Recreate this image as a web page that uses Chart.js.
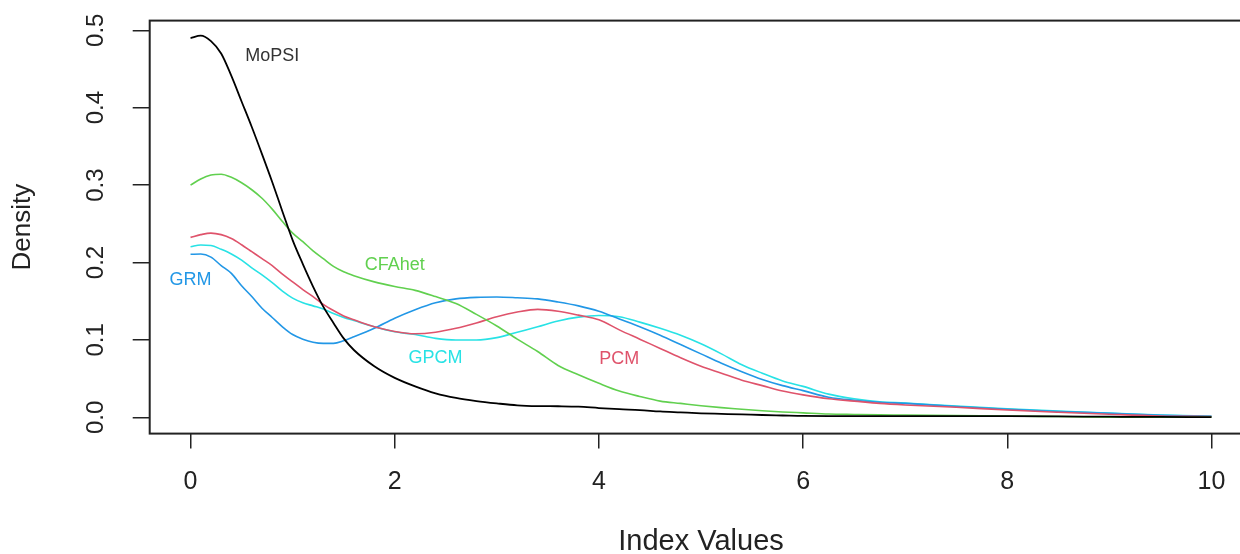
<!DOCTYPE html>
<html>
<head>
<meta charset="utf-8">
<script src="https://cdn.jsdelivr.net/npm/chart.js@4.4.1/dist/chart.umd.min.js"></script>
<style>
  html, body { margin: 0; padding: 0; background: #ffffff; overflow: hidden; }
  #wrap { width: 1260px; height: 554px; }
</style>
</head>
<body>
<div id="wrap"><canvas id="c" width="1260" height="554"></canvas></div>
<script>
// ---- data ----
const indexValues = [0,0.1,0.2,0.3,0.4,0.5,0.6,0.7,0.8,0.9,1.0,1.1,1.2,1.3,1.4,1.5,1.6,1.8,2.0,2.2,2.4,2.6,2.8,3.0,3.2,3.4,3.6,3.8,4.0,4.2,4.4,4.6,4.8,5.0,5.2,5.4,5.6,5.8,6.0,6.25,6.5,6.75,7.0,7.5,8.0,8.5,9.0,9.5,10];

const mopsi = [0.490,0.493,0.486,0.470,0.441,0.408,0.375,0.340,0.304,0.266,0.229,0.198,0.169,0.143,0.122,0.102,0.087,0.066,0.051,0.040,0.031,0.025,0.021,0.018,0.0155,0.0145,0.0143,0.0138,0.012,0.0105,0.0094,0.0076,0.0064,0.0052,0.0045,0.0038,0.0030,0.0024,0.0018,0.0017,0.0017,0.0016,0.0016,0.0016,0.0015,0.0012,0.0008,0.0005,0.0003];

const cfahet = [0.300,0.308,0.313,0.314,0.310,0.303,0.294,0.283,0.269,0.253,0.238,0.227,0.215,0.205,0.195,0.188,0.183,0.175,0.169,0.164,0.156,0.147,0.133,0.118,0.101,0.085,0.067,0.055,0.044,0.034,0.027,0.021,0.018,0.015,0.0125,0.0105,0.0085,0.007,0.0058,0.0043,0.0037,0.0032,0.0030,0.0022,0.0018,0.0010,0.0003,0.0002,0.0001];

const pcm = [0.2325,0.236,0.238,0.236,0.231,0.223,0.214,0.205,0.196,0.185,0.175,0.165,0.156,0.146,0.138,0.131,0.126,0.117,0.111,0.108,0.110,0.115,0.122,0.130,0.136,0.1395,0.137,0.132,0.126,0.113,0.101,0.089,0.077,0.066,0.057,0.048,0.041,0.034,0.029,0.024,0.021,0.018,0.016,0.013,0.0095,0.0066,0.004,0.0018,0.001];

const grm = [0.2106,0.211,0.207,0.196,0.186,0.170,0.156,0.141,0.129,0.117,0.107,0.101,0.097,0.0955,0.0956,0.099,0.104,0.115,0.128,0.139,0.148,0.153,0.155,0.1555,0.1545,0.153,0.149,0.144,0.137,0.127,0.117,0.106,0.094,0.082,0.070,0.059,0.049,0.041,0.0345,0.026,0.022,0.0195,0.018,0.014,0.0105,0.0075,0.0052,0.0028,0.0013];

const gpcm = [0.2204,0.2226,0.222,0.217,0.211,0.203,0.193,0.184,0.174,0.163,0.154,0.148,0.144,0.140,0.134,0.129,0.125,0.117,0.1105,0.107,0.102,0.0999,0.0999,0.103,0.110,0.117,0.1245,0.1295,0.1315,0.130,0.123,0.115,0.106,0.095,0.082,0.068,0.057,0.047,0.040,0.030,0.024,0.020,0.0185,0.0145,0.011,0.008,0.0055,0.003,0.0015];

const xTickValues = [0,2,4,6,8,10];
const xTickLabels = ['0','2','4','6','8','10'];
const yTickValues = [0,0.1,0.2,0.3,0.4,0.5];
const yTickLabels = ['0.0','0.1','0.2','0.3','0.4','0.5'];

const seriesNames = ['MoPSI','CFAhet','PCM','GRM','GPCM'];
const seriesColors = ['#000000','#61D04F','#DF536B','#2297E6','#28E2E5'];
const seriesValues = [mopsi, cfahet, pcm, grm, gpcm];

// curve annotations (data coordinates)
const labelTexts = ['MoPSI','CFAhet','GRM','GPCM','PCM'];
const labelX = [0.8, 2.0, 0.0, 2.4, 4.2];
const labelY = [0.467, 0.197, 0.177, 0.076, 0.075];
const labelColors = ['#333333','#61D04F','#2297E6','#28E2E5','#DF536B'];

// ---- chart ----
const FONT = "'Liberation Sans', Arial, sans-serif";
Chart.defaults.font.family = FONT;
Chart.defaults.color = '#222';

const datasets = seriesValues.map((vals, k) => ({
  label: seriesNames[k],
  data: indexValues.map((x, i) => ({ x: x, y: vals[i] })),
  borderColor: seriesColors[k],
  borderWidth: k === 0 ? 1.8 : 1.6,
  pointRadius: 0,
  fill: false,
  cubicInterpolationMode: 'monotone'
}));

const frameAndLabels = {
  id: 'frameAndLabels',
  afterDraw(chart) {
    const ctx = chart.ctx;
    const a = chart.chartArea;
    const xs = chart.scales.x, ys = chart.scales.y;
    ctx.save();
    // plot frame
    ctx.strokeStyle = '#222';
    ctx.lineWidth = 2;
    ctx.strokeRect(a.left, a.top, a.right - a.left, a.bottom - a.top);
    // rotated y tick labels (R style)
    ctx.fillStyle = '#222';
    ctx.font = '24px ' + FONT;
    ctx.textAlign = 'center';
    ctx.textBaseline = 'middle';
    yTickValues.forEach((v, i) => {
      const py = ys.getPixelForValue(v);
      ctx.save();
      ctx.translate(96, py);
      ctx.rotate(-Math.PI / 2);
      ctx.fillText(yTickLabels[i], 0, 0);
      ctx.restore();
    });
    // curve annotations
    ctx.font = '18px ' + FONT;
    labelTexts.forEach((t, i) => {
      ctx.fillStyle = labelColors[i];
      ctx.fillText(t, xs.getPixelForValue(labelX[i]), ys.getPixelForValue(labelY[i]));
    });
    ctx.restore();
  }
};

new Chart(document.getElementById('c'), {
  type: 'line',
  data: { datasets },
  plugins: [frameAndLabels],
  options: {
    responsive: false,
    animation: false,
    layout: { padding: { top: 20.6, right: 7.7, left: 0, bottom: 0 } },
    plugins: { legend: { display: false }, tooltip: { enabled: false } },
    scales: {
      x: {
        type: 'linear',
        min: -0.4,
        max: 10.4,
        afterBuildTicks: s => { s.ticks = xTickValues.map(v => ({ value: v })); },
        afterFit: s => { s.height = 120.4; },
        grid: { drawOnChartArea: false, drawTicks: true, tickLength: 15, color: '#222', lineWidth: 1.5 },
        border: { display: false },
        ticks: {
          padding: 19,
          font: { size: 25 },
          color: '#222',
          maxRotation: 0,
          minRotation: 0,
          callback: (v) => { const i = xTickValues.indexOf(v); return i >= 0 ? xTickLabels[i] : ''; }
        },
        title: { display: true, text: 'Index Values', font: { size: 29, lineHeight: 0.8 }, color: '#222', padding: { top: 0, bottom: 0 } }
      },
      y: {
        type: 'linear',
        min: -0.021,
        max: 0.5125,
        afterBuildTicks: s => { s.ticks = yTickValues.map(v => ({ value: v })); },
        afterFit: s => { s.width = 149.7; },
        grid: { drawOnChartArea: false, drawTicks: true, tickLength: 17, color: '#222', lineWidth: 1.5 },
        border: { display: false },
        ticks: { display: false },
        title: { display: true, text: 'Density', font: { size: 26, lineHeight: 1.2 }, color: '#222', padding: { top: 7, bottom: 0 } }
      }
    }
  }
});
</script>
</body>
</html>
